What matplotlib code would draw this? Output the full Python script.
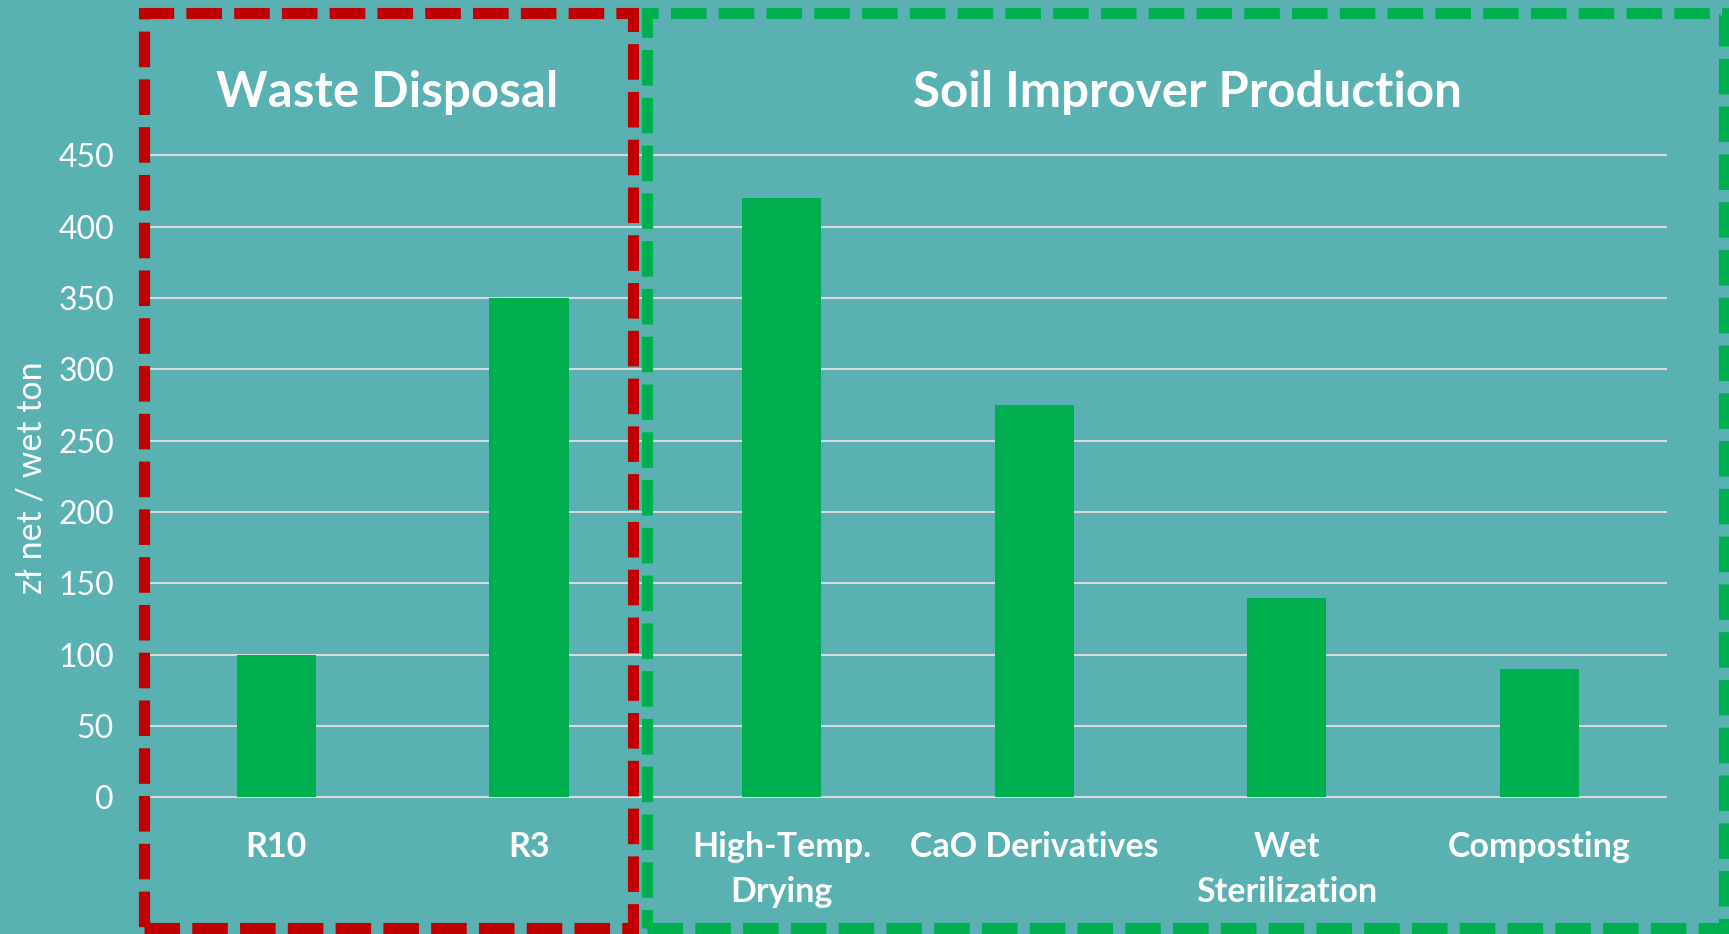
import numpy as np
import matplotlib.pyplot as plt
import matplotlib.patches as patches
import matplotlib.transforms as mtransforms

categories = ["R10", "R3", "High-Temp.\nDrying", "CaO Derivatives", "Wet\nSterilization", "Composting"]
values = [100, 350, 420, 275, 140, 90]
yticks = [0, 50, 100, 150, 200, 250, 300, 350, 400, 450]
group_titles = ["Waste Disposal", "Soil Improver Production"]

bg = "#59B1B2"
bar_green = "#00B050"
red = "#C00000"

plt.rcParams['font.family'] = ['Lato', 'DejaVu Sans']

fig = plt.figure(figsize=(17.29, 9.34), dpi=100)
fig.set_facecolor(bg)
ax = fig.add_axes([0.0868, 0.1462, 0.8766, 0.6874])
ax.set_facecolor(bg)

x = np.arange(len(categories))
ax.bar(x, values, width=0.313, color=bar_green, zorder=3)

ax.set_xlim(-0.5, len(categories) - 0.5)
ax.set_ylim(0, 450)
ax.set_yticks(yticks)
ax.set_yticklabels([str(t) for t in yticks])
ax.tick_params(axis='y', length=0, pad=26, labelsize=23, labelcolor='white')
ax.set_xticks([])
ax.grid(axis='y', color='#D9D9D9', linewidth=1.5, zorder=0)
for gl in ax.get_ygridlines():
    gl.set_clip_on(False)
for s in ax.spines.values():
    s.set_visible(False)

# category labels under the bars, one line at a time
trans = mtransforms.blended_transform_factory(ax.transData, ax.transAxes)
line_step = 45 / 641.9
for xi, lab in zip(x, categories):
    for k, line in enumerate(lab.split("\n")):
        ax.text(xi, -0.0927 - k * line_step, line, transform=trans, ha='center',
                va='baseline', fontsize=24.5, fontweight='bold', color='white')

fig.text(0.0185, 0.489, "zł net / wet ton", rotation=90, ha='center', va='center',
         fontsize=24.5, color='white')

# group titles
fig.text(387.5 / 1729, 1 - 107 / 934, group_titles[0], ha='center', va='baseline',
         fontsize=35.5, fontweight='bold', color='white')
fig.text(1187 / 1729, 1 - 107 / 934, group_titles[1], ha='center', va='baseline',
         fontsize=35.5, fontweight='bold', color='white')

# dashed group frames
red_box = patches.Rectangle((0.0830, 0.0064), 0.3661 - 0.0830, 0.9858 - 0.0064,
                            transform=fig.transFigure, fill=False, edgecolor=red,
                            linewidth=8, linestyle=(0, (3.2, 1.1)), joinstyle='miter')
green_box = patches.Rectangle((0.3742, 0.0064), 0.9971 - 0.3742, 0.9860 - 0.0064,
                              transform=fig.transFigure, fill=False, edgecolor=bar_green,
                              linewidth=8, linestyle=(0, (3.2, 1.1)), joinstyle='miter')
fig.patches.extend([red_box, green_box])

fig.savefig("out.png", dpi=100, facecolor=bg)
